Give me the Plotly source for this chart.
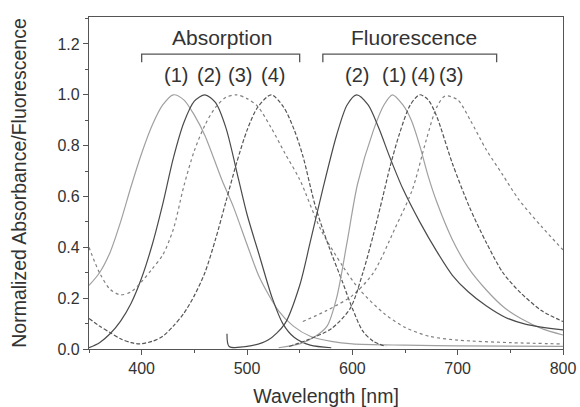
import plotly.graph_objects as go

# ---- Data ----
abs1_x = [350, 360, 370, 380, 390, 400, 410, 420, 430, 440, 450, 460, 476, 487, 501, 512, 530, 544, 560, 580, 600, 650, 700, 800]
abs1_y = [0.25, 0.30, 0.38, 0.50, 0.64, 0.77, 0.88, 0.96, 1.0, 0.98, 0.92, 0.84, 0.667, 0.56, 0.40, 0.28, 0.15, 0.09, 0.05, 0.03, 0.02, 0.015, 0.012, 0.01]

abs2_x = [350, 360, 370, 380, 390, 400, 410, 420, 430, 440, 450, 460, 470, 480, 492, 500, 512, 524, 534, 545, 560, 580]
abs2_y = [0.005, 0.025, 0.06, 0.11, 0.18, 0.28, 0.41, 0.57, 0.75, 0.89, 0.975, 1.0, 0.97, 0.87, 0.667, 0.53, 0.364, 0.20, 0.10, 0.045, 0.015, 0.005]

abs3_x = [350, 360, 370, 380, 390, 400, 410, 420, 430, 440, 450, 460, 470, 480, 490, 500, 510, 523, 536, 550, 570, 591, 607, 630, 650, 673, 700, 750, 800]
abs3_y = [0.40, 0.30, 0.235, 0.213, 0.225, 0.265, 0.315, 0.37, 0.47, 0.64, 0.78, 0.88, 0.95, 0.99, 1.0, 0.985, 0.955, 0.87, 0.77, 0.667, 0.47, 0.325, 0.233, 0.14, 0.085, 0.05, 0.035, 0.025, 0.02]

abs4_x = [350, 360, 370, 380, 390, 398, 410, 420, 430, 440, 450, 460, 470, 480, 490, 500, 510, 523, 535, 545, 553, 565, 578, 591, 600, 610, 620, 632]
abs4_y = [0.12, 0.09, 0.065, 0.04, 0.025, 0.02, 0.03, 0.05, 0.09, 0.14, 0.21, 0.30, 0.43, 0.58, 0.73, 0.86, 0.95, 1.0, 0.95, 0.86, 0.76, 0.56, 0.40, 0.26, 0.16, 0.07, 0.03, 0.01]

fl1_x = [530, 550, 565, 576, 585, 595, 605, 620, 630, 638, 648, 656, 664, 672, 680, 695, 710, 727, 745, 760, 780, 800]
fl1_y = [0.005, 0.02, 0.05, 0.09, 0.20, 0.42, 0.65, 0.86, 0.96, 1.0, 0.96, 0.90, 0.80, 0.68, 0.58, 0.43, 0.32, 0.233, 0.16, 0.12, 0.08, 0.055]

fl2_x = [481, 483, 500, 520, 536, 550, 560, 572, 585, 595, 604, 615, 625, 636, 648, 664, 680, 695, 710, 727, 745, 765, 800]
fl2_y = [0.06, 0.01, 0.01, 0.035, 0.10, 0.25, 0.42, 0.63, 0.84, 0.96, 1.0, 0.96, 0.87, 0.75, 0.63, 0.50, 0.385, 0.29, 0.225, 0.17, 0.125, 0.097, 0.075]

fl3_x = [553, 575, 600, 620, 640, 657, 670, 680, 688, 700, 712, 727, 742, 758, 780, 800]
fl3_y = [0.108, 0.15, 0.21, 0.30, 0.47, 0.627, 0.82, 0.95, 0.995, 0.98, 0.90, 0.785, 0.69, 0.588, 0.48, 0.39]

fl4_x = [540, 557, 580, 598, 610, 620, 629, 636, 645, 655, 664, 672, 680, 695, 711, 727, 743, 760, 780, 800]
fl4_y = [0.01, 0.035, 0.08, 0.16, 0.30, 0.45, 0.60, 0.72, 0.85, 0.96, 1.0, 0.98, 0.916, 0.73, 0.56, 0.42, 0.30, 0.22, 0.15, 0.108]

# labels
abs_label_x = [433, 464, 493, 525]
abs_label_t = ["(1)", "(2)", "(3)", "(4)"]
fl_label_x = [604, 640, 667, 694]
fl_label_t = ["(2)", "(1)", "(4)", "(3)"]
label_y = 1.077

abs_bracket = [400, 550]
fl_bracket = [572, 737]
bracket_top = 1.16
bracket_bot = 1.128
group_title_y = 1.225

LIGHT = "#a0a0a0"
DARK = "#4a4a4a"
MID = "#808080"
DASHC = "#555555"

styles = [
    (abs1_x, abs1_y, LIGHT, "solid"),
    (abs2_x, abs2_y, DARK, "solid"),
    (abs3_x, abs3_y, MID, "dot"),
    (abs4_x, abs4_y, DASHC, "4px,2px"),
    (fl1_x, fl1_y, LIGHT, "solid"),
    (fl2_x, fl2_y, DARK, "solid"),
    (fl3_x, fl3_y, MID, "dot"),
    (fl4_x, fl4_y, DASHC, "4px,2px"),
]

fig = go.Figure()
for xs, ys, c, d in styles:
    fig.add_trace(go.Scatter(x=xs, y=ys, mode="lines",
                             line=dict(color=c, width=1.2, dash=d, shape="spline", smoothing=0.8),
                             showlegend=False, hoverinfo="skip"))

TXT = "#333333"
FONT = "Liberation Sans, Arial, sans-serif"

annotations = []
for x, t in zip(abs_label_x + fl_label_x, abs_label_t + fl_label_t):
    annotations.append(dict(x=x, y=label_y, text=t, showarrow=False,
                            font=dict(size=20, color=TXT, family=FONT)))
annotations.append(dict(x=(abs_bracket[0] + abs_bracket[1]) / 2 + 1, y=group_title_y, text="Absorption",
                        showarrow=False, font=dict(size=21, color=TXT, family=FONT)))
annotations.append(dict(x=(fl_bracket[0] + fl_bracket[1]) / 2 + 4, y=group_title_y, text="Fluorescence",
                        showarrow=False, font=dict(size=21, color=TXT, family=FONT)))

shapes = []
for b in (abs_bracket, fl_bracket):
    shapes.append(dict(type="path", xref="x", yref="y",
                       path=f"M {b[0]},{bracket_bot} L {b[0]},{bracket_top} L {b[1]},{bracket_top} L {b[1]},{bracket_bot}",
                       line=dict(color="#555555", width=1.3)))

fig.update_layout(
    width=580, height=407,
    margin=dict(l=88.5, r=16.5, t=17.3, b=58, autoexpand=False),
    paper_bgcolor="white", plot_bgcolor="white",
    font=dict(family=FONT, color=TXT, size=16),
    annotations=annotations, shapes=shapes,
    xaxis=dict(range=[350, 800], tickmode="array", tickvals=[400, 500, 600, 700, 800],
               automargin=False,
               ticks="outside", ticklen=5, tickwidth=1, tickcolor="#555",
               minor=dict(tickmode="array", tickvals=[350, 450, 550, 650, 750], ticks="outside", ticklen=3, tickcolor="#555"),
               showline=True, linecolor="#555", linewidth=1.3, mirror=True,
               showgrid=False, zeroline=False,
               tickfont=dict(size=16, color=TXT),
               title=dict(text="Wavelength [nm]", font=dict(size=19.5, color=TXT), standoff=15)),
    yaxis=dict(range=[0, 1.306], tickmode="array", tickvals=[0, 0.2, 0.4, 0.6, 0.8, 1.0, 1.2],
               tickformat=".1f", automargin=False,
               ticks="outside", ticklen=5, tickwidth=1, tickcolor="#555",
               minor=dict(tickmode="array", tickvals=[0.1, 0.3, 0.5, 0.7, 0.9, 1.1, 1.3], ticks="outside", ticklen=3, tickcolor="#555"),
               showline=True, linecolor="#555", linewidth=1.3, mirror=True,
               showgrid=False, zeroline=False,
               tickfont=dict(size=16, color=TXT),
               title=dict(text="Normalized Absorbance/Fluorescence", font=dict(size=19.5, color=TXT), standoff=25)),
)

fig.write_html("out.html")
